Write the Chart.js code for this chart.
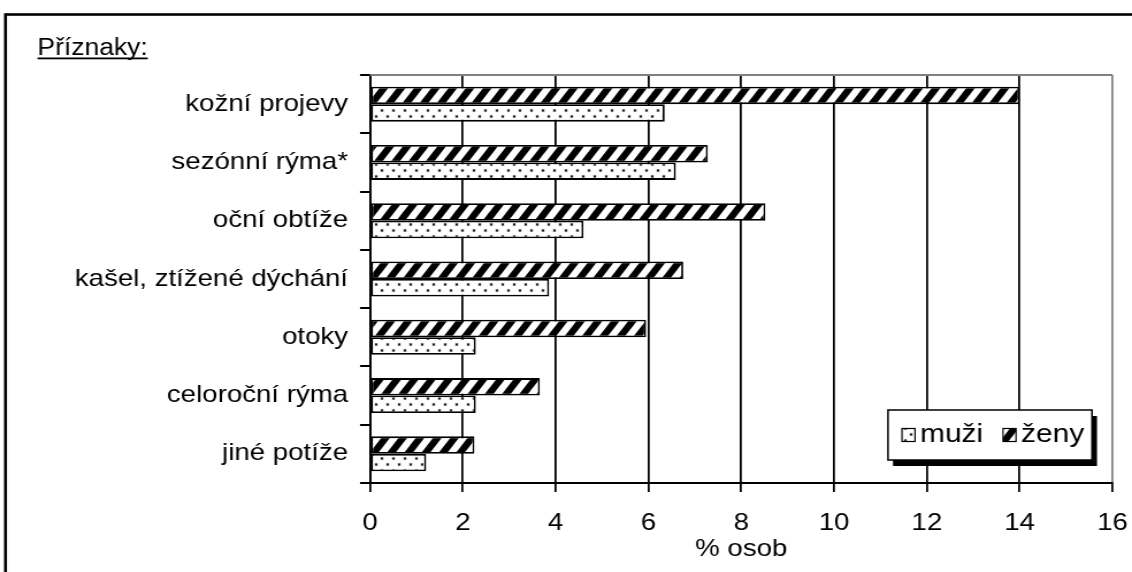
<!DOCTYPE html>
<html>
<head>
<meta charset="utf-8">
<script src="https://cdn.jsdelivr.net/npm/chart.js@4/dist/chart.umd.min.js"></script>
<style>
  html, body { margin: 0; padding: 0; background: #fff; overflow: hidden; }
</style>
</head>
<body>
<canvas id="chart" width="984" height="572" style="display:block;width:1132px;height:572px"></canvas>
<script>
// Symptom categories (top to bottom)
const categories = [
  'kožní projevy',
  'sezónní rýma*',
  'oční obtíže',
  'kašel, ztížené dýchání',
  'otoky',
  'celoroční rýma',
  'jiné potíže'
];
// Share of people with the symptom, in %
const zenyValues = [14.0, 7.28, 8.52, 6.75, 5.95, 3.66, 2.25];
const muziValues = [6.35, 6.59, 4.6, 3.86, 2.28, 2.28, 1.21];
const xTickValues = [0, 2, 4, 6, 8, 10, 12, 14, 16];
const seriesNames = { muzi: 'muži', zeny: 'ženy' };
const axisTitle = '% osob';
const groupTitle = 'Příznaky:';

// The canvas is drawn narrower and stretched by CSS to give the wide lettering
const CANVAS_W = 984, CANVAS_H = 572;
const SX = 1132 / CANVAS_W;
const rx = v => v / SX;

const FONT_FAMILY = "'Liberation Sans', Arial, sans-serif";

// Fill patterns: dotted for men, heavy diagonal hatch for women
function dotPattern(ctx) {
  const w = 10, h = 12;
  const c = document.createElement('canvas');
  c.width = w; c.height = h;
  const g = c.getContext('2d');
  g.fillStyle = '#fff';
  g.fillRect(0, 0, w, h);
  const dots = [[2, 2.5], [7, 8.5]];
  dots.forEach(([x, y]) => {
    g.fillStyle = '#bbb';
    g.fillRect(x - 1.4, y - 1.6, 2.8, 3.2);
    g.fillStyle = '#111';
    g.fillRect(x - 0.9, y - 1.0, 1.8, 2.0);
  });
  return ctx.createPattern(c, 'repeat');
}
function hatchPattern(ctx) {
  const w = 15, h = 22;
  const c = document.createElement('canvas');
  c.width = w; c.height = h;
  const g = c.getContext('2d');
  g.fillStyle = '#fff';
  g.fillRect(0, 0, w, h);
  g.fillStyle = '#000';
  const band = w * 0.5;
  for (let k = -2; k <= 1; k++) {
    const x0 = k * w;
    g.beginPath();
    g.moveTo(x0, h);
    g.lineTo(x0 + band, h);
    g.lineTo(x0 + w + band, 0);
    g.lineTo(x0 + w, 0);
    g.closePath();
    g.fill();
  }
  return ctx.createPattern(c, 'repeat');
}

const canvas = document.getElementById('chart');
const ctx = canvas.getContext('2d');
const muziFill = dotPattern(ctx);
const zenyFill = hatchPattern(ctx);

function zeroPadding(s) {
  s.paddingTop = 0; s.paddingBottom = 0; s.paddingLeft = 0; s.paddingRight = 0;
}

// White page, outer frame, plot border and group heading
const framePlugin = {
  id: 'frame',
  beforeDraw(chart) {
    const c = chart.ctx;
    c.save();
    c.fillStyle = '#fff';
    c.fillRect(0, 0, chart.width, chart.height);
    c.strokeStyle = '#000';
    c.lineWidth = 2.6;
    c.strokeRect(rx(5.5), 14.5, chart.width + 20, chart.height + 20);
    c.restore();
  },
  beforeDatasetsDraw(chart) {
    const a = chart.chartArea;
    const c = chart.ctx;
    c.save();
    c.strokeStyle = '#808080';
    c.lineWidth = 2;
    c.beginPath();
    c.moveTo(a.left, a.top);
    c.lineTo(a.right, a.top);
    c.stroke();
    c.restore();
  },
  afterDraw(chart) {
    const c = chart.ctx;
    c.save();
    c.font = '23px ' + FONT_FAMILY;
    c.fillStyle = '#000';
    c.textBaseline = 'alphabetic';
    const x = rx(37.5), y = 55;
    c.fillText(groupTitle, x, y);
    const tw = c.measureText(groupTitle).width;
    c.fillRect(x, y + 2.5, tw, 1.8);
    c.restore();
  }
};

// Boxed legend with drop shadow inside the plot
const boxLegendPlugin = {
  id: 'boxLegend',
  afterDraw(chart) {
    const c = chart.ctx;
    const bx = rx(888), by = 410, bw = rx(1092) - rx(888), bh = 50;
    c.save();
    c.fillStyle = '#000';
    c.fillRect(bx + rx(5), by + 6, bw, bh);
    c.fillStyle = '#fff';
    c.fillRect(bx, by, bw, bh);
    c.strokeStyle = '#000';
    c.lineWidth = 1.5;
    c.strokeRect(bx, by, bw, bh);

    const items = chart.data.datasets.slice().reverse();
    const markerX = [902, 1003];
    const mk = 13;
    const cy = 435;
    c.font = '26px ' + FONT_FAMILY;
    c.textBaseline = 'middle';
    items.forEach((ds, i) => {
      const x = rx(markerX[i]);
      c.fillStyle = ds.backgroundColor;
      c.fillRect(x, cy - mk / 2, rx(mk), mk);
      c.strokeStyle = '#000';
      c.lineWidth = 1.2;
      c.strokeRect(x, cy - mk / 2, rx(mk), mk);
      c.fillStyle = '#000';
      c.fillText(ds.label, x + rx(mk + 5), cy);
    });
    c.restore();
  }
};

new Chart(canvas, {
  type: 'bar',
  data: {
    labels: categories,
    datasets: [
      {
        label: seriesNames.zeny,
        data: zenyValues,
        backgroundColor: zenyFill,
        borderColor: '#000',
        borderWidth: 1.8,
        borderSkipped: false
      },
      {
        label: seriesNames.muzi,
        data: muziValues,
        backgroundColor: muziFill,
        borderColor: '#000',
        borderWidth: 1.8,
        borderSkipped: false
      }
    ]
  },
  options: {
    indexAxis: 'y',
    responsive: false,
    devicePixelRatio: 1,
    animation: false,
    categoryPercentage: 0.6,
    barPercentage: 1.0,
    layout: { padding: { left: 0, right: CANVAS_W - rx(1112.5), top: 75, bottom: 0 } },
    plugins: {
      legend: { display: false },
      tooltip: { enabled: false }
    },
    scales: {
      x: {
        type: 'linear',
        min: 0,
        max: 16,
        afterBuildTicks(s) { s.ticks = xTickValues.map(v => ({ value: v })); },
        grid: {
          color: c => (c.tick && c.tick.value === 16 ? '#808080' : '#000'),
          tickColor: '#000',
          lineWidth: 1.75,
          tickLength: 9,
          drawTicks: true
        },
        border: { display: true, color: '#000', width: 2 },
        ticks: {
          color: '#000',
          font: { family: FONT_FAMILY, size: 24 },
          padding: 17,
          maxRotation: 0
        },
        title: {
          display: true,
          text: axisTitle,
          color: '#000',
          font: { family: FONT_FAMILY, size: 24, lineHeight: 1.2 },
          padding: { top: 0, bottom: 8 }
        },
        afterFit(s) { s.height = 572 - 483; zeroPadding(s); }
      },
      y: {
        type: 'category',
        offset: true,
        grid: {
          offset: true,
          drawOnChartArea: false,
          drawTicks: true,
          tickLength: rx(10),
          color: '#000',
          lineWidth: 2
        },
        border: { display: true, color: '#000', width: 1.75 },
        ticks: {
          color: '#000',
          font: { family: FONT_FAMILY, size: 24 },
          padding: rx(12),
          autoSkip: false
        },
        afterFit(s) { s.width = rx(370); zeroPadding(s); }
      }
    }
  },
  plugins: [framePlugin, boxLegendPlugin]
});
</script>
</body>
</html>
